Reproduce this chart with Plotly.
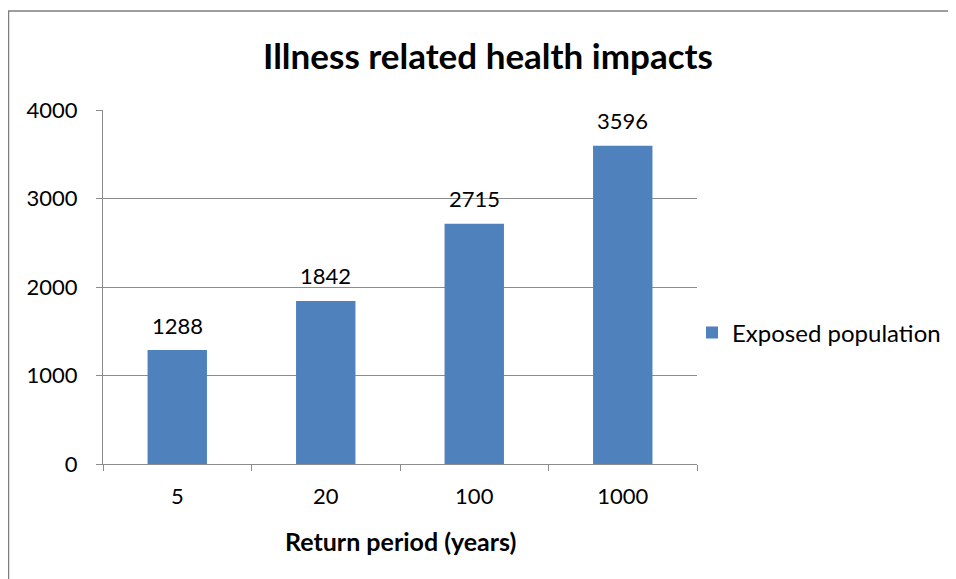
import plotly.graph_objects as go

categories = ["5", "20", "100", "1000"]
exposed_population = [1288, 1842, 2715, 3596]
y_ticks = [0, 1000, 2000, 3000, 4000]

FONT = "Lato, 'Open Sans', sans-serif"
BAR = "#4F81BD"
GRID = "#8c8c8c"

# page is offset by the default 8px body margin
W, H = 948, 571
PL, PR, PT, PB = 95, 689, 102, 456  # plot area in figure pixels
pw, ph = PR - PL, PB - PT


def px_x(x):
    return (x - 8 - PL) / pw


def px_y(y):
    return (PB - (y - 8)) / ph


fig = go.Figure()
fig.add_trace(go.Bar(
    x=categories, y=exposed_population, name="Exposed population",
    marker=dict(color=BAR, line=dict(width=0)), width=0.4,
))

for i, v in enumerate(exposed_population):
    fig.add_annotation(x=i, y=v, text=str(v), showarrow=False, yshift=25,
                       yanchor="middle", font=dict(family=FONT, size=22, color="#000"))

fig.add_annotation(xref="paper", yref="paper", x=0.5, y=px_y(541),
                   text="<b>Return period (years)</b>", showarrow=False,
                   yanchor="middle", font=dict(family=FONT, size=25, color="#000"))

# outer chart border (left and top visible)
fig.add_shape(type="rect", xref="paper", yref="paper",
              x0=px_x(8.5), x1=px_x(1200),
              y0=px_y(800), y1=px_y(11),
              line=dict(color="#7f7f7f", width=1.5), layer="below")

fig.update_layout(
    width=W, height=H,
    margin=dict(l=PL, r=W - PR, t=PT, b=H - PB, autoexpand=False),
    paper_bgcolor="white", plot_bgcolor="white",
    font=dict(family=FONT, size=22, color="#000"),
    title=dict(text="<b>Illness related health impacts</b>", x=(488 - 8) / W, xref="container",
               xanchor="center", y=1 - (57 - 8) / H, yref="container", yanchor="middle",
               font=dict(family=FONT, size=35, color="#000")),
    showlegend=True,
    legend=dict(x=px_x(692), y=px_y(333), xanchor="left", yanchor="middle",
                font=dict(family=FONT, size=24, color="#000"), bgcolor="rgba(0,0,0,0)"),
    bargap=0.6,
)
fig.update_xaxes(
    type="category", showline=True, linecolor=GRID, linewidth=1.3,
    ticks="outside", tickson="boundaries", ticklen=6, tickcolor=GRID, tickwidth=1.3,
    showgrid=False, ticklabelstandoff=12, tickangle=0, automargin=False,
    range=[-0.5, 3.5],
)
fig.update_yaxes(
    range=[0, 4000], tickvals=y_ticks, showline=True, linecolor=GRID, linewidth=1.3,
    ticks="outside", ticklen=6, tickcolor=GRID, tickwidth=1.3,
    showgrid=True, gridcolor=GRID, gridwidth=1.3, zeroline=False,
    ticklabelstandoff=14, automargin=False,
)

fig.write_html("out.html")
